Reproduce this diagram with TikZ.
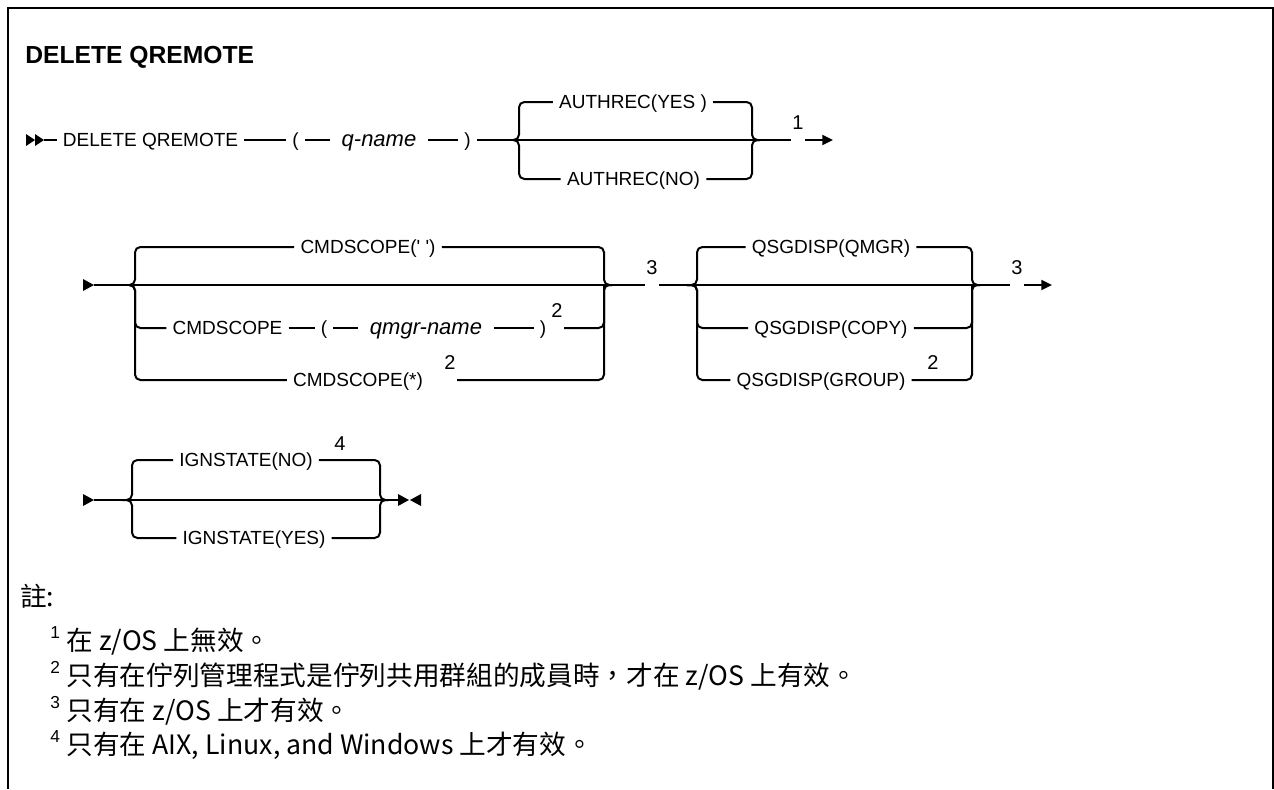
\documentclass[tikz,border=0pt]{standalone}
\usepackage{fontspec}
\newfontfamily\synfont{Liberation Sans}
\newfontfamily\cjkfont{Noto Sans CJK TC}
\usetikzlibrary{arrows.meta}
\newcommand{\synsize}{\fontsize{14.25}{17}\selectfont}
\newcommand{\notenum}[1]{\raisebox{0.42em}{\synfont\fontsize{13}{13}\selectfont #1}\hspace{0.25em}}
\tikzset{
	rail/.style={line width=1.5pt},
	brace/.style={rail,rounded corners=4pt},
	kw/.style={font=\synfont\synsize, inner xsep=4.5pt, inner ysep=0pt, text height=10.2pt, text depth=0pt},
	var/.style={kw, font=\synfont\itshape\fontsize{16.5}{20}\selectfont, inner xsep=0pt},
	fnum/.style={font=\synfont\fontsize{15}{17}\selectfont, inner xsep=1pt, inner ysep=0pt},
	note/.style={font=\cjkfont\fontsize{20}{24}\selectfont, anchor=base west, inner sep=0pt},
	endtip/.style={-{Triangle[length=8pt,width=7.5pt]}}
}
\begin{document}
\begin{tikzpicture}[x=0.75pt,y=-0.75pt]
	\useasboundingbox (0,0) rectangle (1274,789);
	\draw[line width=1.5pt] (7.5,789) -- (7.5,8) -- (1272.5,8) -- (1272.5,789);
	\node[anchor=base west, inner sep=0pt, font=\synfont\bfseries\fontsize{18.5}{22}\selectfont] (title) at (25,63) {DELETE QREMOTE};
	
	% first line
	\fill (26,134) -- (35,140) -- (26,146) -- cycle;
	\fill (35,134) -- (44,140) -- (35,146) -- cycle;
	\coordinate (s1) at (44,140);
	\node[kw] (delq) at (150.5,140) {DELETE QREMOTE};
	\node[kw] (lp1) at (295.5,140) {(};
	\node[var, minimum width=73.5pt] (qname) at (379,140) {q-name};
	\node[kw] (rp1) at (467.5,140) {)};
	\coordinate (g1l) at (513,140);
	\coordinate (g1lv) at (519,140);
	\coordinate (g1rv) at (752,140);
	\coordinate (g1r) at (760,140);
	\node[kw] (ayes) at (633,102) {AUTHREC(YES )};
	\node[kw] (ano) at (633.5,179) {AUTHREC(NO)};
	\node[fnum] (n1) at (798,123) {1};
	\coordinate (e1) at (833,140);
	\draw[rail] (s1) -- (delq);
	\draw[rail] (delq) -- (lp1);
	\draw[rail] (lp1) -- (qname);
	\draw[rail] (qname) -- (rp1);
	\draw[rail] (rp1) -- (g1r);
	\draw[brace] (g1l) -| (g1lv |- ayes) -- (ayes.west);
	\draw[brace] (ayes.east) -| (g1rv |- g1r) -- (g1r);
	\draw[brace] (g1l) -| (g1lv |- ano) -- (ano.west);
	\draw[brace] (ano.east) -| (g1rv |- g1r) -- (g1r);
	\draw[rail] (g1r) -- (n1.west |- g1r);
	\draw[rail,endtip] (n1.east |- g1r) -- (e1);
	
	% second line
	\fill (83,279) -- (94,285) -- (83,291) -- cycle;
	\coordinate (s2) at (94,285);
	\coordinate (gal) at (129,285);
	\coordinate (galv) at (135,285);
	\coordinate (garv) at (604,285);
	\coordinate (gar) at (612,285);
	\node[kw] (cs1) at (368,247) {CMDSCOPE(' ')};
	\node[kw] (cs2) at (227.5,328) {CMDSCOPE};
	\node[kw] (lp2) at (324,328) {(};
	\node[var, minimum width=102pt] (qmgr) at (426,328) {qmgr-name};
	\node[kw] (rp2) at (543,328) {)};
	\node[fnum] (n2a) at (557,311) {2};
	\node[kw] (cs3) at (358,380) {CMDSCOPE(*)};
	\node[fnum] (n2b) at (450,363) {2};
	\node[fnum] (n3a) at (652,268) {3};
	\coordinate (gbl) at (687,285);
	\coordinate (gblv) at (697,285);
	\coordinate (gbrv) at (972,285);
	\coordinate (gbr) at (980,285);
	\node[kw] (qm) at (831,247) {QSGDISP(QMGR)};
	\node[kw] (cp) at (831,328) {QSGDISP(COPY)};
	\node[kw] (gp) at (821,380) {QSGDISP(GROUP)};
	\node[fnum] (n2c) at (933,363) {2};
	\node[fnum] (n3b) at (1017,268) {3};
	\coordinate (e2) at (1052,285);
	\draw[rail] (s2) -- (gar);
	\draw[brace] (gal) -| (galv |- cs1) -- (cs1.west);
	\draw[brace] (cs1.east) -| (garv |- gar) -- (gar);
	\draw[brace] (gal) -| (galv |- cs2) -- (cs2.west);
	\draw[rail] (cs2) -- (lp2);
	\draw[rail] (lp2) -- (qmgr);
	\draw[rail] (qmgr) -- (rp2);
	\draw[brace] (n2a.east |- rp2) -| (garv |- gar);
	\draw[brace] (gal) -| (galv |- cs3) -- (cs3.west);
	\draw[brace] (n2b.east |- cs3) -| (garv |- gar) -- (gar);
	\draw[rail] (gar) -- (n3a.west |- gar);
	\draw[rail] (n3a.east |- gar) -- (gbr);
	\draw[brace] (gbl) -| (gblv |- qm) -- (qm.west);
	\draw[brace] (qm.east) -| (gbrv |- gbr) -- (gbr);
	\draw[brace] (gbl) -| (gblv |- cp) -- (cp.west);
	\draw[brace] (cp.east) -| (gbrv |- gbr);
	\draw[brace] (gbl) -| (gblv |- gp) -- (gp.west);
	\draw[brace] (gp.east) -| (gbrv |- gbr) -- (gbr);
	\draw[rail] (gbr) -- (n3b.west |- gbr);
	\draw[rail,endtip] (n3b.east |- gbr) -- (e2);
	
	% third line
	\fill (83,494) -- (94,500) -- (83,506) -- cycle;
	\coordinate (s3) at (94,500);
	\coordinate (gcl) at (127,500);
	\coordinate (gclv) at (132,500);
	\coordinate (gcrv) at (380,500);
	\coordinate (gcr) at (388,500);
	\node[kw] (ino) at (246,460) {IGNSTATE(NO)};
	\node[fnum] (n4) at (340,444) {4};
	\node[kw] (iyes) at (254,538) {IGNSTATE(YES)};
	\coordinate (e3) at (399,500);
	\draw[rail] (s3) -- (e3);
	\draw[brace] (gcl) -| (gclv |- ino) -- (ino.west);
	\draw[brace] (ino.east) -| (gcrv |- gcr) -- (gcr);
	\draw[brace] (gcl) -| (gclv |- iyes) -- (iyes.west);
	\draw[brace] (iyes.east) -| (gcrv |- gcr) -- (gcr);
	\fill (398,494) -- (409,500) -- (398,506) -- cycle;
	\fill (421,494) -- (410,500) -- (421,506) -- cycle;
	
	% notes
	\node[note] (notes) at (20,606) {註:};
	\node[note] (note1) at (50,650) {\notenum{1}在 z/OS 上無效。};
	\node[note] (note2) at (50,685) {\notenum{2}只有在佇列管理程式是佇列共用群組的成員時，才在 z/OS 上有效。};
	\node[note] (note3) at (50,720) {\notenum{3}只有在 z/OS 上才有效。};
	\node[note] (note4) at (50,754) {\notenum{4}只有在 AIX, Linux, and Windows 上才有效。};
\end{tikzpicture}
\end{document}
